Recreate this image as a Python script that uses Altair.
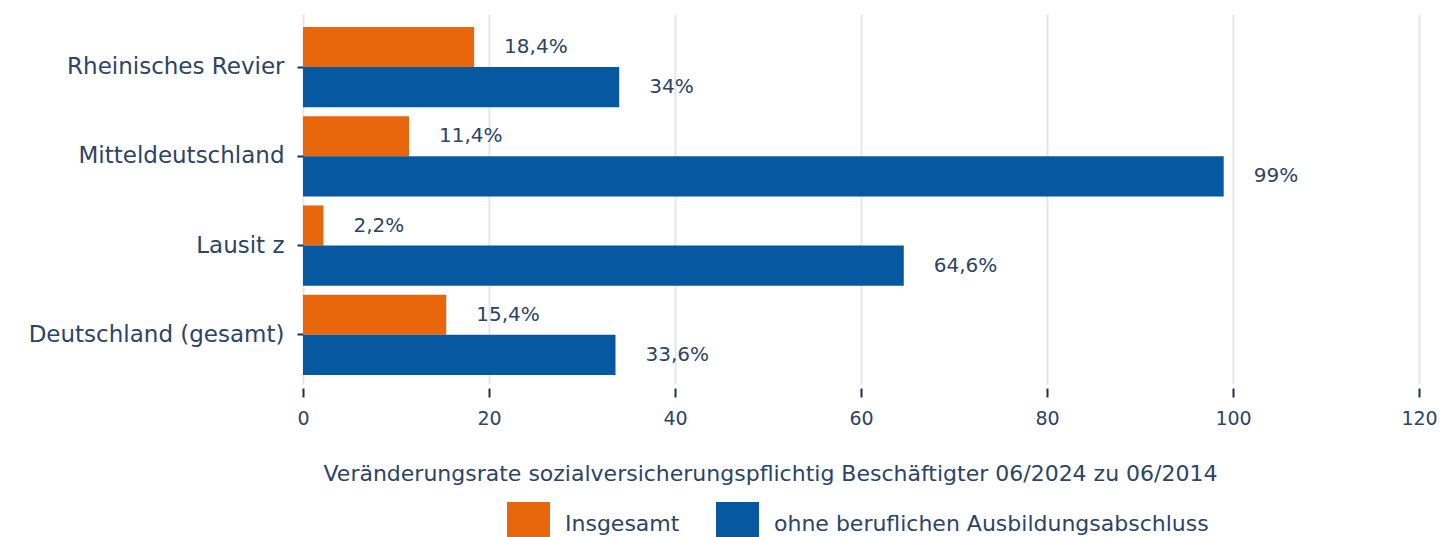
import altair as alt
import pandas as pd

regions = ["Rheinisches Revier", "Mitteldeutschland", "Lausit z", "Deutschland (gesamt)"]
series = ["Insgesamt", "ohne beruflichen Ausbildungsabschluss"]
insgesamt = [18.4, 11.4, 2.2, 15.4]
ohne_abschluss = [34, 99, 64.6, 33.6]
colors = ["#E8670C", "#0659A0"]
x_title = "Veränderungsrate sozialversicherungspflichtig Beschäftigter 06/2024 zu 06/2014"

rows = []
for i, r in enumerate(regions):
    for s, vals in zip(series, [insgesamt, ohne_abschluss]):
        v = vals[i]
        rows.append({"region": r, "serie": s, "wert": v,
                     "label": f"{v:g}".replace(".", ",") + "%"})
df = pd.DataFrame(rows)

FONT = "DejaVu Sans"
TXT = "#2B4468"
TICK = "#1C2F52"

base = alt.Chart(df).encode(
    y=alt.Y("region:N", sort=regions, title=None,
            scale=alt.Scale(paddingInner=0.1, paddingOuter=0.123, align=0.59),
            axis=alt.Axis(domain=False, ticks=True, tickSize=6, tickColor=TICK,
                          tickWidth=2, labelPadding=13, labelFontSize=23,
                          labelColor=TXT, labelFont=FONT, labelLimit=0)),
    yOffset=alt.YOffset("serie:N", sort=series,
                        scale=alt.Scale(paddingInner=0, paddingOuter=0)),
)

bars = base.mark_bar().encode(
    x=alt.X("wert:Q", title=x_title,
            scale=alt.Scale(domain=[0, 120], nice=False, zero=True),
            axis=alt.Axis(values=[0, 20, 40, 60, 80, 100, 120], domain=False,
                          grid=True, gridColor="#E5E5E5", gridWidth=2,
                          ticks=True, tickSize=9, tickColor=TICK, tickWidth=2,
                          offset=4, labelPadding=12, labelFontSize=19,
                          labelColor=TXT, labelFont=FONT, labelFlush=False,
                          titleFontSize=22, titleFont=FONT, titleColor=TXT,
                          titleFontWeight="normal", titlePadding=35,
                          titleX=467, titleAlign="center")),
    color=alt.Color("serie:N", sort=series,
                    scale=alt.Scale(domain=series, range=colors),
                    legend=alt.Legend(title=None, orient="none",
                                      legendX=204, legendY=488, padding=0,
                                      direction="horizontal",
                                      symbolType="square", symbolSize=1849,
                                      symbolStrokeWidth=0, symbolOpacity=1,
                                      labelFontSize=22, labelFont=FONT,
                                      labelColor=TXT, labelOffset=15,
                                      labelLimit=0, columnPadding=36)),
)

labels = base.mark_text(align="left", baseline="middle", dx=30,
                        fontSize=20, font=FONT, color=TXT).encode(
    x=alt.X("wert:Q"),
    text="label:N",
)

chart = alt.layer(bars, labels).properties(
    width=1116, height=370,
    autosize=alt.AutoSizeParams(type="none"),
    padding={"left": 295, "top": 6, "right": 19, "bottom": 153},
).configure_view(stroke=None)

chart.save("out.html", embed_options={"renderer": "svg", "actions": False})
